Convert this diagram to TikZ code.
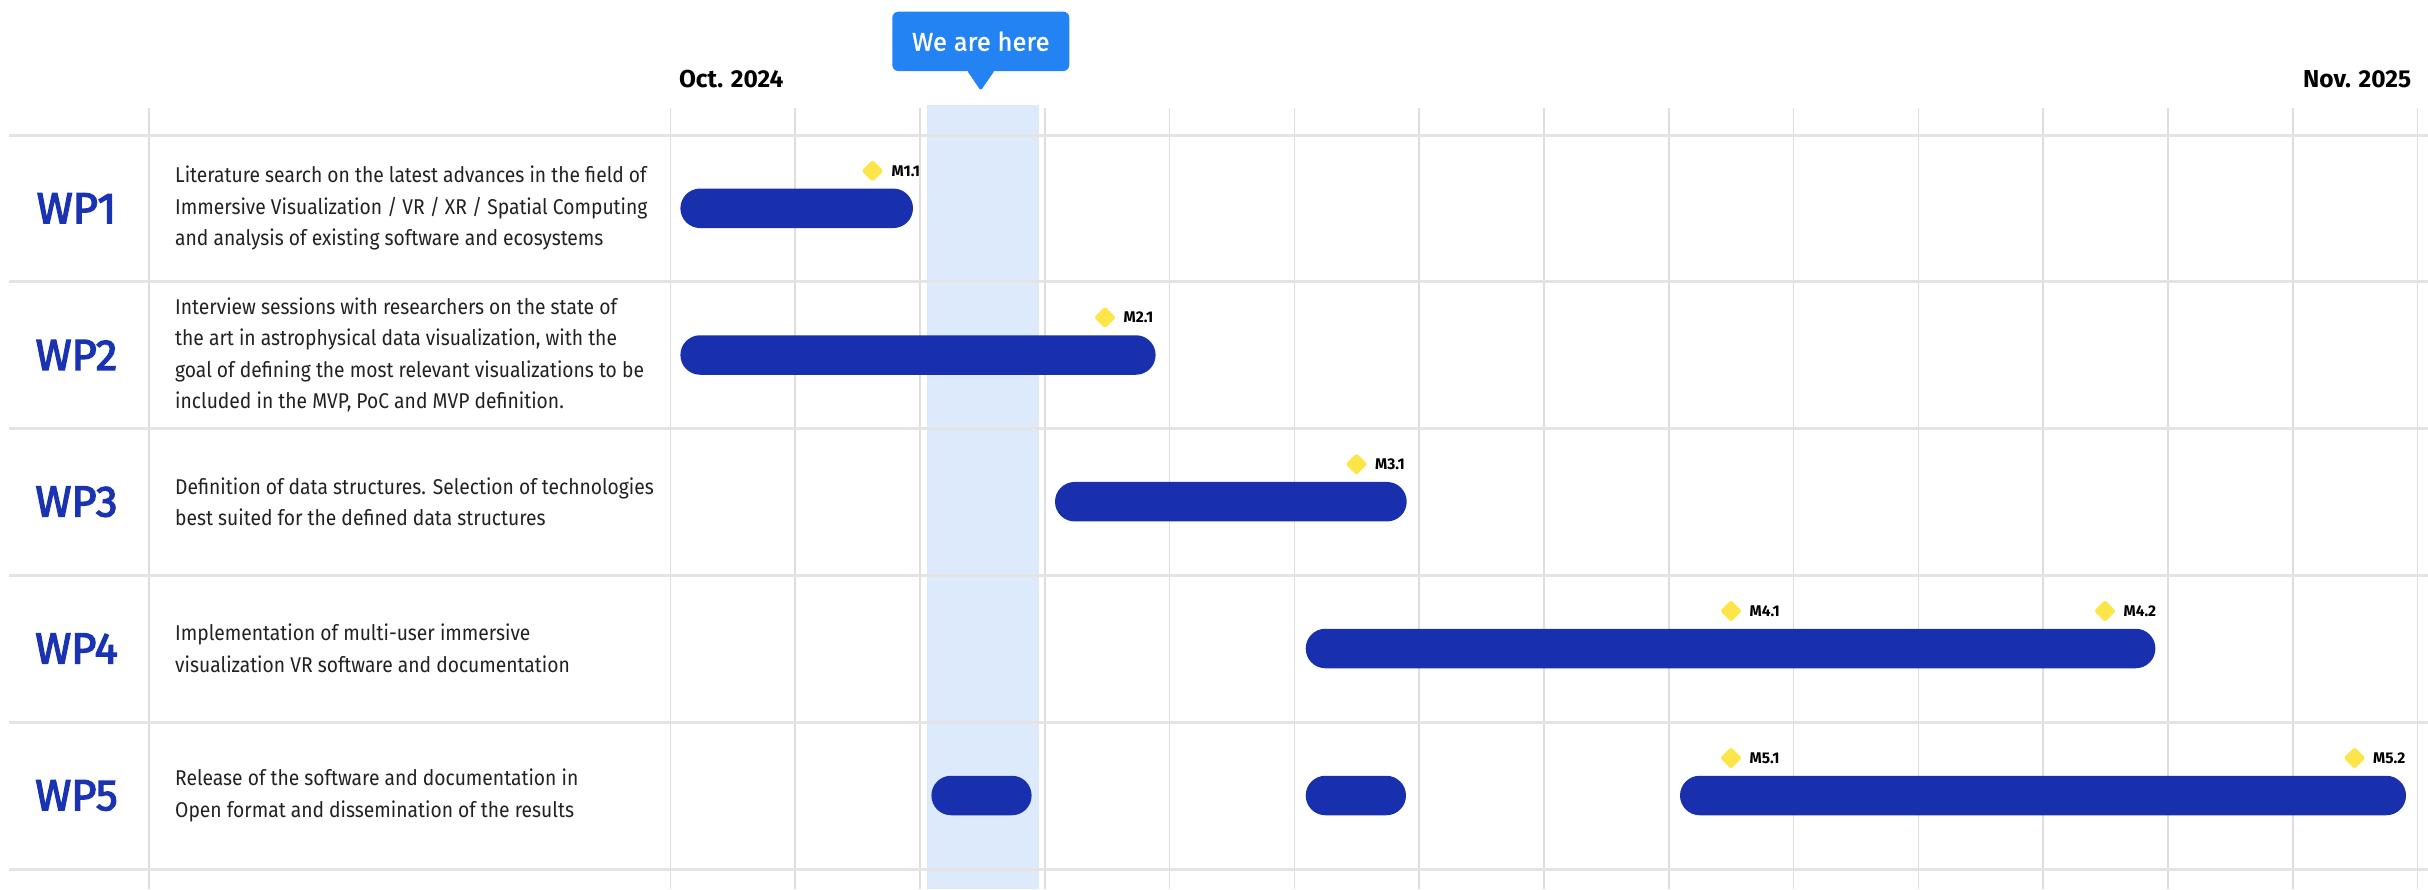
\documentclass[tikz,border=0pt]{standalone}
\usepackage{fontspec}
\setmainfont{Fira Sans}
\newfontfamily\bodyfont{Fira Sans}[FakeStretch=0.9]
\newfontfamily\wpfont{Fira Sans}[FakeBold=3]
\newfontfamily\herefont{Fira Sans}[FakeBold=1]
\definecolor{barblue}{HTML}{1930AE}
\definecolor{wpblue}{HTML}{1A33B2}
\definecolor{hl}{HTML}{DDEAFB}
\definecolor{bubble}{HTML}{2383F2}
\definecolor{ms}{HTML}{FBE549}
\definecolor{gridv}{HTML}{DEDEDE}
\definecolor{gridh}{HTML}{E4E4E4}
\definecolor{txt}{HTML}{222222}
\tikzset{
  gbar/.style={fill=barblue, draw=none, rectangle, rounded corners=19.7pt, minimum height=39.5pt, inner sep=0pt, outer sep=0pt},
  msdia/.style={fill=ms, draw=none, rectangle, minimum size=15.5pt, rotate=45, rounded corners=2.5pt, inner sep=0pt},
  mslab/.style={anchor=west, font=\bfseries\fontsize{15.5}{18}\selectfont, text=black, inner sep=0pt},
  wplab/.style={font=\wpfont\fontsize{43.5}{48}\selectfont, text=wpblue, inner sep=0pt},
  desc/.style={anchor=west, align=left, font=\bodyfont\fontsize{21.4}{31.5}\selectfont, text=txt, inner sep=0pt},
  datelab/.style={font=\bfseries\fontsize{24.5}{28}\selectfont, text=black, inner sep=0pt},
  vline/.style={draw=gridv, line width=1.5pt},
  hline/.style={draw=gridh, line width=3pt},
}
\begin{document}
\begin{tikzpicture}[x=1pt,y=-1pt]
\useasboundingbox (0,0) rectangle (2428,889);
\fill[white] (0,0) rectangle (2428,889);
% highlight column
\fill[hl] (926.7,105) rectangle (1039,889);
% vertical grid
\draw[vline] (149,108) -- (149,889);
\foreach \k in {0,...,14} {
  \draw[vline] ({670.4+124.8*\k},108) -- ({670.4+124.8*\k},889);
}
% horizontal grid
\foreach \y in {135,281.7,428.3,575,722,869} {
  \draw[hline] (9,\y) -- (2428,\y);
}
% bubble
\fill[bubble, rounded corners=6pt] (892.3,11.7) rectangle (1069.3,71);
\fill[bubble, rounded corners=2.5pt] (966.7,70) -- (980.7,90.7) -- (995,70) -- cycle;
\node[font=\herefont\fontsize{25.6}{30}\selectfont, text=white, inner sep=0pt] (here) at (980.8,41.3) {We are here};
% dates
\node[datelab, anchor=base west] (oct) at (678.8,87.3) {Oct. 2024};
\node[datelab, anchor=base east] (nov) at (2411.4,87.3) {Nov. 2025};
% WP labels
\node[wplab] (wp1) at (76.5,208.3) {WP1};
\node[wplab] (wp2) at (76.5,355) {WP2};
\node[wplab] (wp3) at (76.5,501.7) {WP3};
\node[wplab] (wp4) at (76.5,648.5) {WP4};
\node[wplab] (wp5) at (76.5,795.5) {WP5};
% descriptions
\node[desc] (d1) at (175,208.3) {Literature search on the latest advances in the field of\\Immersive Visualization / VR / XR / Spatial Computing\\and analysis of existing software and ecosystems};
\node[desc] (d2) at (175,355) {Interview sessions with researchers on the state of\\the art in astrophysical data visualization, with the\\goal of defining the most relevant visualizations to be\\included in the MVP, PoC and MVP definition.};
\node[desc] (d3) at (175,501.7) {Definition of data structures. Selection of technologies\\best suited for the defined data structures};
\node[desc] (d4) at (175,648.5) {Implementation of multi-user immersive\\visualization VR software and documentation};
\node[desc] (d5) at (175,795.5) {Release of the software and documentation in\\Open format and dissemination of the results};
% bars
\node[gbar, minimum width=232.6pt] (b1) at ({(680.4+913)/2},208.3) {};
\node[gbar, minimum width=475.2pt] (b2) at ({(680.4+1155.6)/2},355) {};
\node[gbar, minimum width=351.7pt] (b3) at ({(1055+1406.7)/2},501.7) {};
\node[gbar, minimum width=849.7pt] (b4) at ({(1305.7+2155.4)/2},648.5) {};
\node[gbar, minimum width=100.2pt] (b5a) at ({(931.4+1031.6)/2},795.5) {};
\node[gbar, minimum width=100.3pt] (b5b) at ({(1305.7+1406)/2},795.5) {};
\node[gbar, minimum width=726pt] (b5c) at ({(1680+2406)/2},795.5) {};
% milestones
\node[msdia] (m11) at (872.5,170.8) {};
\node[mslab] (l11) at (891.5,170.8) {M1.1};
\node[msdia] (m21) at (1105,317.5) {};
\node[mslab] (l21) at (1123.5,317.5) {M2.1};
\node[msdia] (m31) at (1356.5,464.2) {};
\node[mslab] (l31) at (1375,464.2) {M3.1};
\node[msdia] (m41) at (1731,611) {};
\node[mslab] (l41) at (1749.5,611) {M4.1};
\node[msdia] (m42) at (2105,611) {};
\node[mslab] (l42) at (2123.5,611) {M4.2};
\node[msdia] (m51) at (1731,758) {};
\node[mslab] (l51) at (1749.5,758) {M5.1};
\node[msdia] (m52) at (2354.6,758) {};
\node[mslab] (l52) at (2373,758) {M5.2};
\end{tikzpicture}
\end{document}
